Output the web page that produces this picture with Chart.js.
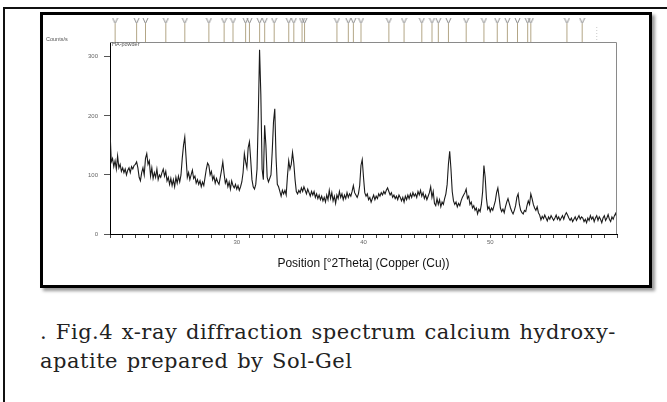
<!DOCTYPE html>
<html>
<head>
<meta charset="utf-8">
<title>XRD HA powder</title>
<script src="https://cdn.jsdelivr.net/npm/chart.js@4.4.0/dist/chart.umd.min.js"></script>
<style>
  html, body { margin: 0; padding: 0; background: #fff; }
  body { width: 667px; height: 402px; position: relative; overflow: hidden; font-family: "Liberation Sans", Arial, sans-serif; }
  .page { position: absolute; left: 3px; top: 7px; width: 700px; height: 420px; border-left: 2px solid #111; border-top: 2px solid #111; }
  .figure { position: absolute; left: 40px; top: 12px; width: 606px; height: 270px; border: 3px solid #000; box-shadow: 3px 3px 3px #999; background: #fff; }
  #xrd { position: absolute; left: 43px; top: 15px; }
  .small { position: absolute; font-size: 5.5px; color: #555; white-space: nowrap; }
  .caption { position: absolute; left: 40px; top: 318px; font-family: "DejaVu Serif", serif; font-size: 21px; line-height: 29px; letter-spacing: 0.5px; word-spacing: 1.5px; color: #222; }
</style>
</head>
<body>
<div class="page"></div>
<div class="figure"></div>
<canvas id="xrd" width="606" height="270"></canvas>
<div class="small" style="left:46px; top:36px;">Counts/s</div>
<div class="small" style="left:112px; top:41px;">HA-powder</div>
<div class="caption">. Fig.4 x-ray diffraction spectrum calcium hydroxy-<br>apatite prepared by Sol-Gel</div>
<script>
// scan: 20 to 60 deg 2theta, 0.1 deg step
const scanStart = 20;
const scanStep = 0.1;

// counts/s, ten values per degree
const counts = [
  176, 122, 128, 114, 124, 110, 132, 112, 118, 106,  // 20
  112, 104, 110, 100, 108, 112, 104, 114, 110, 116,  // 21
  118, 122, 112, 96, 90, 104, 112, 100, 128, 136,    // 22
  118, 124, 98, 112, 94, 104, 96, 110, 92, 100,      // 23
  96, 104, 110, 98, 106, 90, 96, 84, 94, 82,         // 24
  92, 80, 96, 86, 98, 88, 100, 128, 150, 164,        // 25
  130, 96, 104, 92, 100, 108, 94, 98, 86, 92,        // 26
  84, 90, 80, 88, 82, 96, 110, 120, 116, 100,        // 27
  106, 92, 98, 86, 94, 88, 84, 96, 108, 122,         // 28
  102, 86, 92, 80, 88, 76, 90, 82, 78, 84,           // 29
  76, 82, 74, 80, 88, 104, 136, 122, 112, 146,       // 30
  156, 126, 92, 80, 76, 84, 110, 200, 312, 236,      // 31
  110, 92, 184, 150, 96, 88, 94, 100, 140, 190,      // 32
  212, 130, 84, 80, 72, 64, 74, 68, 74, 66,          // 33
  98, 124, 110, 118, 138, 120, 92, 72, 68, 74,       // 34
  70, 78, 72, 80, 74, 68, 76, 70, 64, 72,            // 35
  66, 72, 62, 68, 60, 66, 58, 64, 56, 62,            // 36
  54, 66, 58, 74, 60, 70, 56, 64, 52, 66,            // 37
  60, 72, 62, 68, 58, 66, 60, 70, 62, 68,            // 38
  64, 72, 82, 70, 66, 62, 68, 82, 116, 126,          // 39
  96, 70, 64, 68, 58, 62, 54, 60, 66, 58,            // 40
  64, 60, 68, 64, 70, 66, 72, 68, 74, 78,            // 41
  72, 66, 70, 62, 66, 60, 64, 58, 66, 62,            // 42
  56, 62, 54, 64, 58, 66, 60, 68, 62, 70,            // 43
  64, 68, 62, 72, 66, 74, 64, 70, 60, 66,            // 44
  58, 64, 70, 80, 62, 72, 52, 48, 60, 50,            // 45
  58, 46, 54, 50, 60, 68, 84, 118, 140, 110,         // 46
  72, 56, 50, 54, 46, 52, 48, 56, 62, 66,            // 47
  70, 76, 60, 64, 50, 54, 44, 48, 40, 44,            // 48
  34, 42, 38, 50, 72, 116, 96, 60, 42, 46,           // 49
  38, 44, 40, 48, 56, 70, 78, 62, 44, 38,            // 50
  42, 36, 46, 54, 60, 52, 44, 38, 34, 40,            // 51
  48, 62, 68, 50, 40, 36, 34, 40, 38, 48,            // 52
  56, 50, 68, 60, 50, 44, 40, 46, 36, 32,            // 53
  24, 30, 26, 32, 27, 22, 29, 25, 31, 27,            // 54
  23, 27, 32, 25, 29, 23, 27, 31, 25, 32,            // 55
  36, 32, 27, 23, 27, 21, 25, 29, 23, 27,            // 56
  31, 25, 29, 27, 21, 25, 19, 27, 23, 31,            // 57
  25, 29, 21, 27, 31, 23, 29, 25, 19, 27,            // 58
  31, 23, 27, 33, 25, 21, 29, 25, 31, 35,            // 59
  27                                                 // 60
];

// reference pattern lines shown above the plot (deg 2theta)
const refLines = [
  20.4, 22.1, 22.8, 24.4, 25.9, 27.8, 29.0, 29.7, 30.7, 31.0,
  31.8, 32.2, 32.95, 34.1, 34.5, 35.15, 35.35, 37.9, 38.8, 39.2,
  39.8, 42.0, 43.2, 44.6, 45.4, 45.9, 46.7, 48.1, 49.5, 50.55,
  51.35, 52.15, 52.95, 53.2, 56.05, 57.25, 58.4
];
const faintRefLines = [58.4];

const yTicks = [0, 100, 200, 300];
const xLabels = [30, 40, 50];

function stemGlyph(faint) {
  const c = document.createElement('canvas');
  c.width = 7;
  c.height = 24;
  const g = c.getContext('2d');
  g.lineWidth = 1;
  if (!faint) {
    g.strokeStyle = '#8d8d8d';
    g.beginPath();
    g.moveTo(1, 0); g.lineTo(3.5, 5.5); g.lineTo(6, 0);
    g.stroke();
    g.strokeStyle = '#b3a686';
  } else {
    g.strokeStyle = '#c8c8c8';
    g.setLineDash([1, 2]);
  }
  g.beginPath();
  g.moveTo(3.5, faint ? 9 : 5.5);
  g.lineTo(3.5, 24);
  g.stroke();
  return c;
}
const stem = stemGlyph(false);
const stemFaint = stemGlyph(true);

// frame top + right of the plot
const plotFrame = {
  id: 'plotFrame',
  afterDatasetsDraw(chart) {
    const { ctx, chartArea: a } = chart;
    ctx.save();
    ctx.strokeStyle = '#8a8a8a';
    ctx.lineWidth = 1;
    ctx.beginPath();
    ctx.moveTo(a.left, Math.round(a.top) + 0.5);
    ctx.lineTo(Math.round(a.right) - 0.5, Math.round(a.top) + 0.5);
    ctx.lineTo(Math.round(a.right) - 0.5, a.bottom);
    ctx.stroke();
    ctx.restore();
  }
};

const ctx = document.getElementById('xrd').getContext('2d');
new Chart(ctx, {
  data: {
    datasets: [
      {
        type: 'line',
        label: 'HA-powder',
        data: counts.map((c, i) => ({ x: scanStart + i * scanStep, y: c })),
        borderColor: '#1a1a1a',
        borderWidth: 1.1,
        pointRadius: 0,
        tension: 0,
        yAxisID: 'y'
      },
      {
        type: 'scatter',
        label: 'reference',
        data: refLines.map(p => ({ x: p, y: 1.0625 })),
        pointStyle: refLines.map(p => faintRefLines.includes(p) ? stemFaint : stem),
        pointRadius: 14,
        pointHoverRadius: 14,
        pointBorderWidth: 0,
        clip: false,
        yAxisID: 'yRef'
      }
    ]
  },
  options: {
    responsive: false,
    animation: false,
    layout: { padding: { top: 27, right: 32, bottom: 14, left: 0 } },
    plugins: { legend: { display: false }, tooltip: { enabled: false } },
    scales: {
      x: {
        type: 'linear',
        min: 20,
        max: 60,
        afterFit: s => { s.height = 37; },
        afterBuildTicks: s => { s.ticks = s.ticks.filter(t => Number.isInteger(Math.round(t.value * 1000) / 1000)); },
        ticks: {
          stepSize: 1,
          autoSkip: false,
          maxRotation: 0,
          padding: 1,
          color: '#666',
          font: { family: 'Liberation Sans', size: 6 },
          callback: v => xLabels.includes(v) ? String(v) : ''
        },
        grid: { drawOnChartArea: false, tickLength: 4, color: '#444' },
        border: { color: '#000', width: 1 },
        title: {
          display: true,
          text: 'Position [°2Theta] (Copper (Cu))',
          color: '#111',
          font: { family: 'Liberation Sans', size: 12 },
          padding: { top: 0, bottom: 0 }
        }
      },
      y: {
        min: 0,
        max: 325,
        afterFit: s => { s.width = 67; },
        afterBuildTicks: s => { s.ticks = yTicks.map(v => ({ value: v })); },
        ticks: {
          padding: 6,
          color: '#666',
          font: { family: 'Liberation Sans', size: 6 }
        },
        grid: { drawOnChartArea: false, tickLength: 6, color: '#555' },
        border: { color: '#000', width: 1 }
      },
      yRef: { display: false, min: 0, max: 1 }
    }
  },
  plugins: [plotFrame]
});
</script>
</body>
</html>
